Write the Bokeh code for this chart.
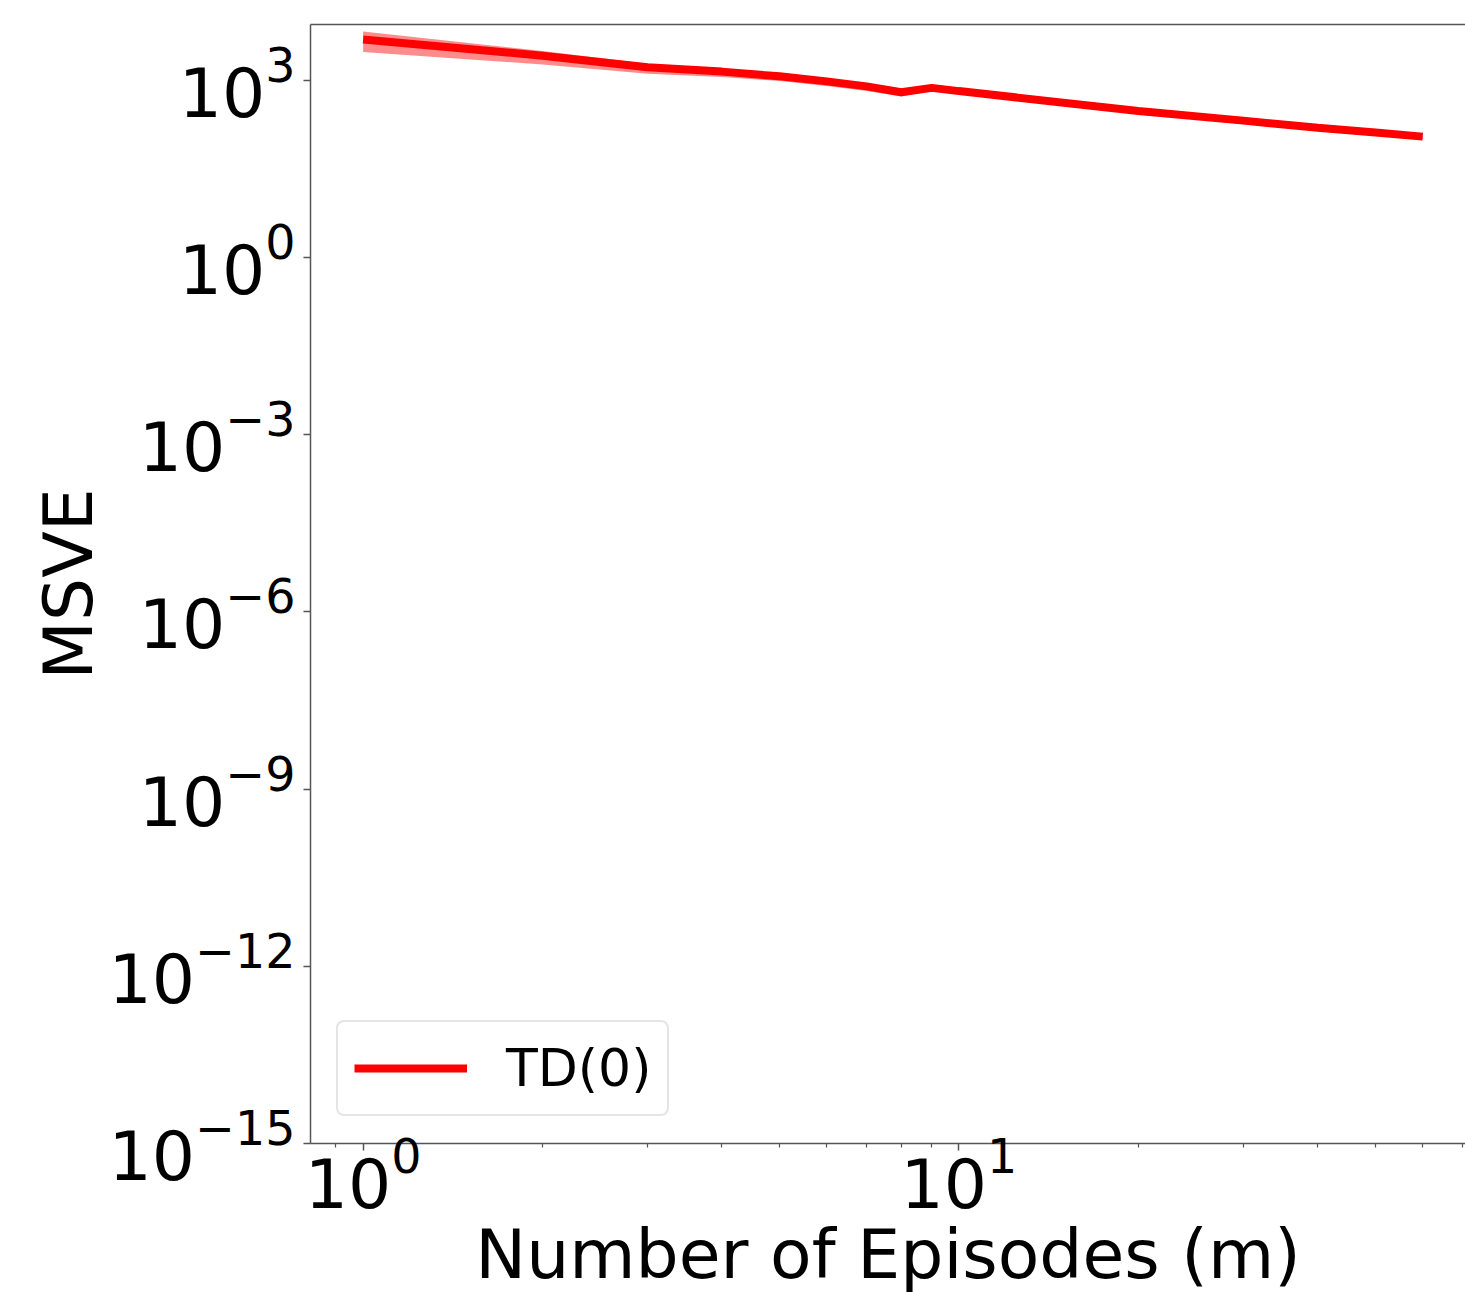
from bokeh.plotting import figure
from bokeh.models import FixedTicker, LogAxis, Legend, LegendItem, Range1d, ColumnDataSource
from bokeh.embed import file_html
from bokeh.resources import INLINE

# ---- data ----
episodes = [1, 2, 3, 4, 5, 6, 7, 8, 9, 10, 20, 30, 40, 50, 60]
msve_mean = [4943, 2630, 1679, 1413, 1175, 966, 794, 631, 750, 661, 305, 209, 158, 132, 112]
msve_upper = [6761, 3162, 1928, 1585, 1318, 1084, 891, 692, 841, 724, 327, 224, 168, 140, 117]
msve_lower = [3048, 1862, 1303, 1148, 977, 804, 661, 537, 668, 589, 278, 191, 146, 122, 100]
series_label = "TD(0)"

x_major_ticks = [1, 10]
x_minor_ticks = [0.9, 2, 3, 4, 5, 6, 7, 8, 9, 20, 30, 40, 50, 60, 70]
y_major_ticks = [1e-15, 1e-12, 1e-9, 1e-6, 1e-3, 1e0, 1e3]

FONT = "DejaVu Sans"
SPINE = "#555555"

src = ColumnDataSource(dict(x=episodes, y=msve_mean, lo=msve_lower, hi=msve_upper))

p = figure(
    x_axis_type="log", y_axis_type="log",
    x_range=Range1d(0.816, 70.8), y_range=Range1d(1e-15, 8870),
    frame_width=1155, frame_height=1119,
    min_border_left=310, min_border_top=24, min_border_right=0, min_border_bottom=0,
    output_backend="svg", toolbar_location=None,
)
p.outline_line_color = None
p.grid.visible = False
p.background_fill_color = "white"
p.border_fill_color = "white"

band = p.varea(x="x", y1="lo", y2="hi", source=src, fill_color="red", fill_alpha=0.45)
line = p.line(x="x", y="y", source=src, line_color="red", line_width=8)

# x axis
xa = p.xaxis[0]
xa.ticker = FixedTicker(ticks=x_major_ticks, minor_ticks=x_minor_ticks)
xa.axis_label = "Number of Episodes (m)"
# y axis
ya = p.yaxis[0]
ya.ticker = FixedTicker(ticks=y_major_ticks, minor_ticks=[])
ya.axis_label = "MSVE"

for ax in (xa, ya):
    ax.axis_line_color = SPINE
    ax.axis_line_width = 1.5
    ax.major_tick_line_color = SPINE
    ax.major_tick_line_width = 1.5
    ax.major_tick_in = 0
    ax.major_tick_out = 7
    ax.minor_tick_line_color = SPINE
    ax.minor_tick_line_width = 1.2
    ax.minor_tick_in = 0
    ax.minor_tick_out = 4
    ax.major_label_text_font = FONT
    ax.major_label_text_font_size = "68px"
    ax.major_label_text_color = "black"
    ax.axis_label_text_font = FONT
    ax.axis_label_text_font_size = "68px"
    ax.axis_label_text_font_style = "normal"
    ax.axis_label_text_color = "black"

xa.major_label_standoff = -16
xa.axis_label_standoff = 4
ya.major_label_standoff = 8
ya.axis_label_standoff = -2

# top spine
top = LogAxis(ticker=FixedTicker(ticks=[], minor_ticks=[]), axis_line_color=SPINE, axis_line_width=1.5,
              major_tick_line_color=None, minor_tick_line_color=None, major_label_text_font_size="0px")
p.add_layout(top, "above")

legend = Legend(
    items=[LegendItem(label=series_label, renderers=[line])],
    location=(26, 27), margin=0,
    label_text_font=FONT, label_text_font_size="52px", label_text_color="black",
    glyph_width=113, glyph_height=40, label_standoff=39, padding=16,
    border_line_color="#cccccc", border_line_width=2, background_fill_alpha=0.8,
)
if "border_radius" in Legend.properties():
    legend.border_radius = 8
p.add_layout(legend)

open("out.html", "w").write(file_html(p, INLINE))
